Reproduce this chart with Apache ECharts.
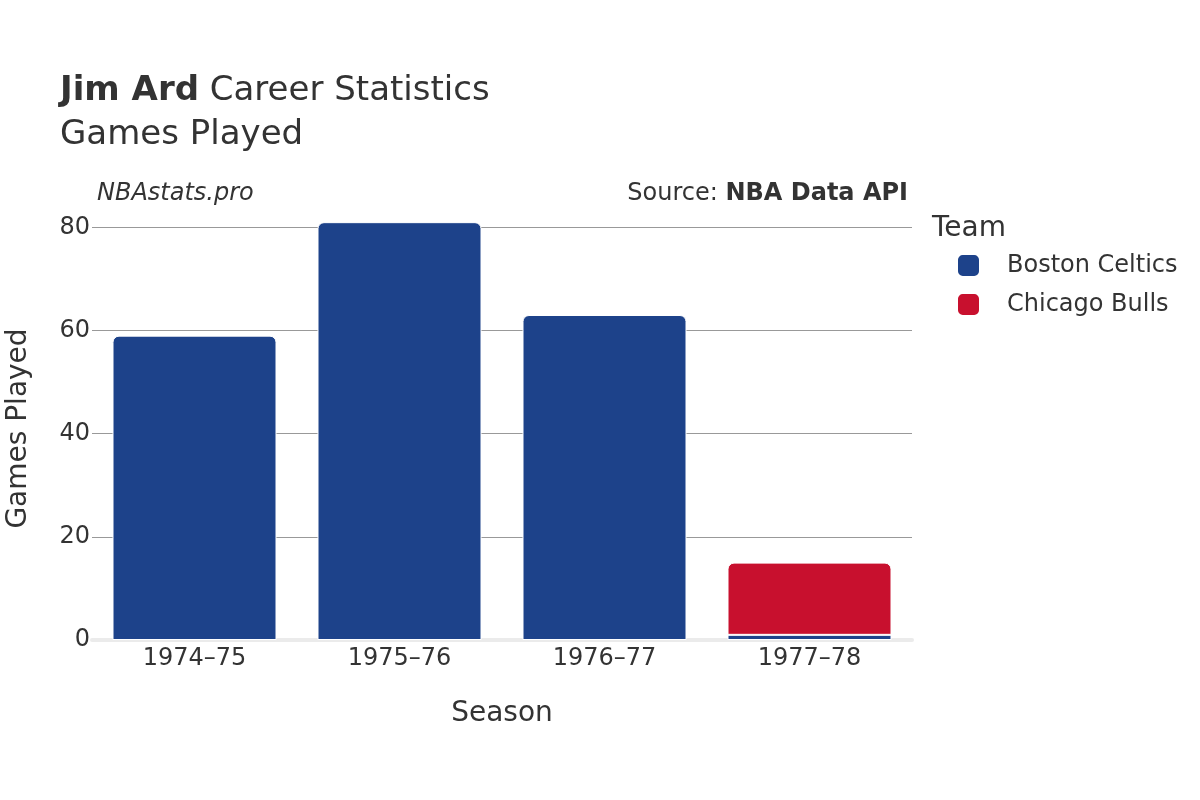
<!DOCTYPE html>
<html>
<head>
<meta charset="utf-8">
<script src="https://cdn.jsdelivr.net/npm/echarts@6/dist/echarts.min.js"></script>
<style>
  html, body { margin: 0; padding: 0; background: #fff; }
  #chart { width: 1200px; height: 800px; }
</style>
</head>
<body>
<div id="chart"></div>
<script>
var seasons = ['1974–75', '1975–76', '1976–77', '1977–78'];
var celtics = [59, 81, 63, 1];
var bulls = [null, null, null, 14];
var yTicks = [0, 20, 40, 60, 80];

var font = 'DejaVu Sans';
var topRadius = [6, 6, 0, 0];

var myChart = echarts.init(document.getElementById('chart'));

// round the top of whichever segment is the top of its stack
var celticsData = celtics.map(function (v, i) {
  return {
    value: v,
    itemStyle: { borderRadius: bulls[i] ? 0 : topRadius }
  };
});
var bullsData = bulls.map(function (v) {
  return { value: v, itemStyle: { borderRadius: topRadius } };
});

var option = {
  backgroundColor: '#fff',
  textStyle: { fontFamily: font },
  title: [
    {
      text: '{b|Jim Ard} Career Statistics\nGames Played',
      left: 55,
      top: 64,
      textStyle: {
        fontFamily: font,
        fontSize: 34,
        fontWeight: 'normal',
        color: '#333',
        lineHeight: 44,
        rich: {
          b: { fontFamily: font, fontSize: 34, fontWeight: 'bold', color: '#333' }
        }
      }
    },
    {
      text: 'NBAstats.pro',
      left: 92,
      top: 177,
      textStyle: { fontFamily: font, fontSize: 24, fontStyle: 'italic', fontWeight: 'normal', color: '#333' }
    },
    {
      text: 'Source: {b|NBA Data API}',
      right: 287,
      top: 177,
      textStyle: {
        fontFamily: font, fontSize: 24, fontWeight: 'normal', color: '#333',
        rich: { b: { fontFamily: font, fontSize: 24, fontWeight: 'bold', color: '#333' } }
      }
    },
    {
      text: 'Team',
      left: 927,
      top: 210,
      textStyle: { fontFamily: font, fontSize: 28, fontWeight: 'normal', color: '#333' }
    }
  ],
  legend: {
    orient: 'vertical',
    left: 951,
    top: 248,
    itemWidth: 23,
    itemHeight: 23,
    itemGap: 14,
    icon: 'roundRect',
    textStyle: { fontFamily: font, fontSize: 24, color: '#333', padding: [0, 0, 0, 22] },
    data: ['Boston Celtics', 'Chicago Bulls']
  },
  grid: {
    left: 92,
    right: 288,
    top: 217,
    bottom: 160,
    containLabel: false,
    outerBoundsMode: 'none'
  },
  xAxis: {
    type: 'category',
    data: seasons,
    name: 'Season',
    nameLocation: 'middle',
    nameGap: 60,
    nameTextStyle: { fontFamily: font, fontSize: 28, color: '#333' },
    axisLine: { show: true, lineStyle: { color: '#ebebeb', width: 4 } },
    axisTick: { show: false },
    axisLabel: { fontFamily: font, fontSize: 24, color: '#333', margin: 7 }
  },
  yAxis: {
    type: 'value',
    min: 0,
    max: 82,
    interval: 20,
    name: 'Games Played',
    nameLocation: 'middle',
    nameGap: 59,
    nameTextStyle: { fontFamily: font, fontSize: 28, color: '#333' },
    axisLine: { show: false },
    axisTick: { show: false },
    axisLabel: {
      fontFamily: font, fontSize: 24, color: '#333', margin: 2,
      showMaxLabel: false,
      formatter: function (v) { return yTicks.indexOf(v) >= 0 ? String(v) : ''; }
    },
    splitLine: {
      show: true,
      showMinLine: false,
      showMaxLine: false,
      lineStyle: { color: '#999', width: 1 }
    }
  },
  series: [
    {
      name: 'Boston Celtics',
      type: 'bar',
      stack: 'gp',
      barWidth: '80%',
      itemStyle: { color: '#1d428a', borderColor: '#fff', borderWidth: 1 },
      data: celticsData
    },
    {
      name: 'Chicago Bulls',
      type: 'bar',
      stack: 'gp',
      barWidth: '80%',
      itemStyle: { color: '#c8102e', borderColor: '#fff', borderWidth: 1 },
      data: bullsData
    }
  ]
};

myChart.setOption(option);
</script>
</body>
</html>
